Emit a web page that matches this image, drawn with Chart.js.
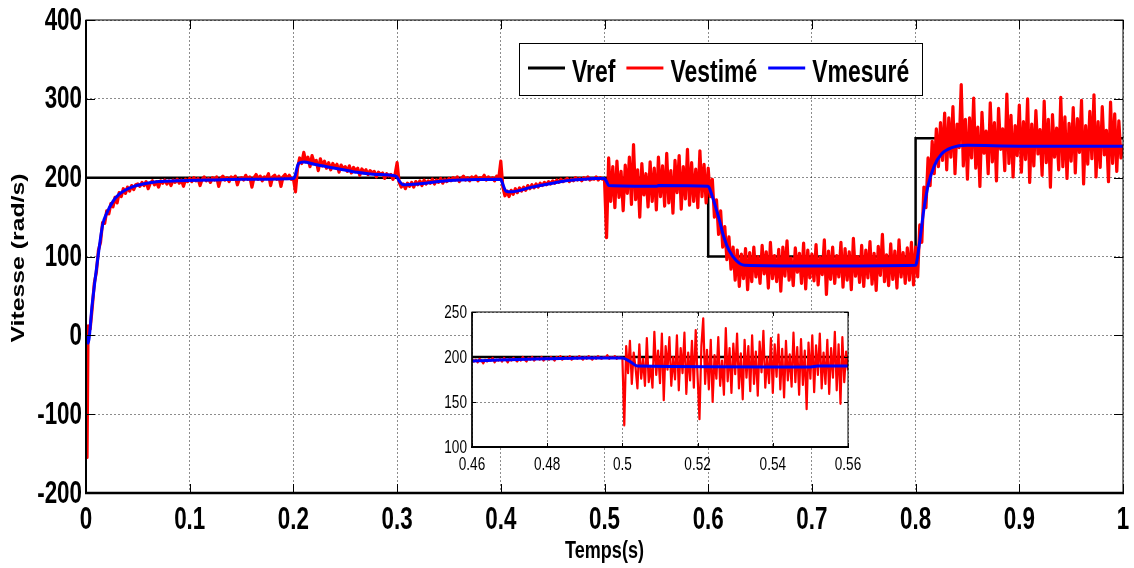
<!DOCTYPE html>
<html>
<head>
<meta charset="utf-8">
<script src="https://cdn.jsdelivr.net/npm/chart.js@4.4.1/dist/chart.umd.min.js"></script>
<style>
    html, body { margin: 0; padding: 0; background: #fff; }
    #wrap { position: relative; width: 1134px; height: 568px; }
    #main { position: absolute; left: 0; top: 0; }
    #inset { position: absolute; left: 428px; top: 300px; }
</style>
</head>
<body>
<div id="wrap">
    <canvas id="main" width="1134" height="568"></canvas>
    <canvas id="inset" width="460" height="180"></canvas>
</div>
<script>
// ============================================================================
// VITESSE : Vref / Vestimé / Vmesuré  (main plot + zoom 0.46 - 0.56 s)
// ============================================================================

const SANS = '"Liberation Sans", Arial, sans-serif';

// tick labels
const xTicksMain = [0, 0.1, 0.2, 0.3, 0.4, 0.5, 0.6, 0.7, 0.8, 0.9, 1];
const yTicksMain = [-200, -100, 0, 100, 200, 300, 400];
const xTicksInset = [0.46, 0.48, 0.5, 0.52, 0.54, 0.56];
const yTicksInset = [100, 150, 200, 250];

// reference speed (rad/s)
const refTimes = [0, 0.6, 0.6, 0.8, 0.8, 1];
const refValues = [200, 200, 100, 100, 250, 250];

// measured speed (rad/s)
const mesTimes = [0, 0.002, 0.006, 0.0116, 0.016, 0.02, 0.026, 0.032, 0.039, 0.046,
    0.055, 0.07, 0.088, 0.12, 0.15, 0.2, 0.201, 0.205, 0.21, 0.22,
    0.24, 0.26, 0.28, 0.299, 0.302, 0.306, 0.32, 0.34, 0.36, 0.4,
    0.401, 0.405, 0.41, 0.43, 0.45, 0.46, 0.47, 0.48, 0.49, 0.5,
    0.502, 0.504, 0.55, 0.552, 0.6, 0.603, 0.61, 0.615, 0.62, 0.627,
    0.635, 0.7, 0.8, 0.803, 0.808, 0.812, 0.818, 0.825, 0.835, 0.85,
    0.9, 1.0];
const mesValues = [0, -10, 40, 100, 140, 155, 170, 179, 185, 189,
    192, 195, 196, 197, 198, 199, 200, 218, 220, 217,
    212, 207, 204, 202, 196, 191, 192, 195, 197, 198,
    195, 183, 182, 188, 193, 195.5, 197, 198, 199, 199,
    195, 190, 189, 190, 189, 180, 150, 125, 108, 95,
    89, 88, 89, 110, 160, 190, 215, 230, 238, 241,
    240, 240];

// estimated speed: start-up spike, then samples every 2 ms from t = 0.002 (one row = 50 ms)
const estStartTimes = [0, 0.001];
const estStartValues = [0, -155];
const estStep = 0.002;
const estValues = [
    12, 8, 35, 66, 80, 108, 118, 143, 142, 158, 154, 167, 163, 175, 168, 181, 176, 186, 180, 188, 183, 190, 185, 191,
    192, 189, 194, 190, 195, 186, 193, 196, 191, 195, 188, 196, 193, 197, 192, 196, 190, 197, 194, 198, 193, 197, 189, 198, 195,
    199, 195, 200, 196, 199, 190, 198, 201, 196, 199, 194, 200, 197, 201, 189, 199, 202, 197, 200, 195, 201, 198, 202, 191, 199,
    200, 197, 203, 198, 201, 188, 200, 204, 198, 202, 196, 201, 199, 205, 190, 201, 203, 198, 202, 189, 201, 204, 199, 203, 198,
    199, 182, 212, 225, 218, 232, 220, 226, 214, 228, 219, 222, 209, 224, 215, 221, 212, 219, 210, 218, 213, 217, 207, 216, 211,
    214, 208, 215, 206, 213, 209, 212, 203, 211, 207, 210, 204, 209, 206, 208, 201, 207, 204, 206, 199, 205, 202, 204, 198, 204,
    219, 194, 188, 192, 186, 193, 189, 194, 188, 195, 191, 196, 190, 197, 192, 196, 193, 198, 192, 197, 194, 199, 193, 198, 195,
    199, 196, 200, 197, 201, 195, 199, 202, 197, 200, 196, 201, 198, 202, 196, 200, 199, 203, 197, 201, 198, 200, 196, 202, 199,
    221, 188, 177, 183, 176, 184, 179, 186, 181, 187, 183, 188, 184, 190, 186, 191, 187, 192, 188, 193, 190, 194, 191, 195, 192,
    196, 193, 197, 194, 198, 195, 197, 199, 195, 198, 196, 200, 197, 199, 196, 200, 198, 201, 197, 199, 198, 201, 197, 200, 198,
    198, 124, 225, 170, 214, 162, 221, 175, 208, 158, 216, 180, 226, 166, 242, 172, 210, 150, 218, 178, 205, 163, 220, 170, 212,
    159, 226, 176, 215, 164, 231, 168, 209, 155, 222, 181, 228, 160, 214, 173, 236, 165, 219, 170, 211, 162, 234, 176, 217, 168,
    212, 176, 198, 150, 172, 128, 158, 112, 138, 96, 125, 84, 112, 70, 108, 62, 103, 72, 110, 58, 105, 68, 112, 74, 100,
    66, 114, 78, 106, 60, 118, 72, 101, 68, 109, 56, 112, 75, 120, 70, 98, 63, 111, 80, 104, 66, 117, 59, 108, 73,
    103, 69, 115, 64, 99, 77, 121, 52, 107, 71, 112, 66, 101, 74, 118, 61, 110, 70, 106, 58, 123, 75, 100, 67, 114,
    62, 108, 73, 119, 65, 104, 57, 113, 76, 128, 68, 102, 63, 116, 71, 107, 60, 121, 74, 105, 66, 111, 70, 118, 64,
    112, 74, 140, 118, 188, 162, 225, 190, 246, 205, 262, 214, 270, 222, 282, 210, 276, 226, 290, 205, 268, 238, 318, 215, 274,
    198, 276, 225, 301, 212, 264, 189, 283, 231, 259, 205, 295, 220, 270, 196, 288, 236, 262, 209, 306, 218, 279, 201, 266, 228,
    292, 207, 271, 223, 300, 194, 268, 215, 285, 230, 261, 203, 297, 219, 274, 188, 280, 226, 263, 210, 302, 214, 277, 199, 269,
    221, 289, 206, 275, 232, 298, 192, 266, 217, 284, 224, 305, 201, 271, 213, 290, 229, 260, 195, 296, 218, 281, 208, 272, 225,
    242
];

// estimated speed in the zoom, sampled every 0.5 ms from t = 0.46
const insetStart = 0.46;
const insetStep = 0.0005;
const insetEstValues = [
    198, 195, 197, 194, 198, 196, 193, 197, 195, 198, 196, 199, 194, 197, 196, 198, 195, 199, 197, 194,
    198, 196, 199, 197, 195, 198, 196, 200, 197, 195, 199, 197, 200, 196, 198, 199, 197, 200, 196, 198,
    199, 197, 200, 198, 196, 200, 198, 201, 197, 199, 200, 198, 201, 197, 199, 200, 198, 201, 199, 197,
    200, 198, 201, 199, 197, 200, 198, 201, 199, 198, 200, 199, 202, 198, 200, 199, 201, 198, 200, 199,
    199, 124, 212, 182, 218, 170, 205, 188, 165, 214,
    176, 198, 168, 221, 172, 190, 166, 228, 180, 207,
    171, 226, 152, 212, 186, 222, 168, 200, 175, 224,
    163, 210, 182, 227, 159, 205, 174, 218, 166, 230,
    178, 131, 212, 243, 170, 208, 164, 219, 150, 202,
    176, 222, 168, 196, 158, 232, 173, 210, 160, 215,
    181, 226, 165, 204, 153, 219, 177, 212, 162, 224,
    170, 206, 157, 217, 183, 229, 166, 200, 171, 221,
    160, 214, 178, 225, 164, 209, 155, 218, 174, 203,
    167, 227, 172, 211, 158, 220, 169, 207, 142, 216,
    176, 224, 161, 213, 180, 226, 165, 205, 170, 219,
    159, 210, 177, 228, 163, 214, 148, 222, 172, 206,
    185
];

const legendItems = [
    { label: 'Vref', color: '#000000' },
    { label: 'Vestimé', color: '#ff0000' },
    { label: 'Vmesuré', color: '#0000ff' }
];

// ---------------------------------------------------------------------------

const toPoints = (ts, vs) => ts.map((t, i) => ({ x: t, y: vs[i] }));
const sampled = (t0, step, vs) => vs.map((v, i) => ({ x: +(t0 + i * step).toFixed(5), y: v }));
const fmt = v => String(Math.round(v * 100) / 100);

const refPts = toPoints(refTimes, refValues);
const mesPts = toPoints(mesTimes, mesValues);
const estPts = toPoints(estStartTimes, estStartValues).concat(sampled(estStep, estStep, estValues));
const insetPts = sampled(insetStart, insetStep, insetEstValues);

function datasets(estData, estWidth) {
    return [
        { data: refPts, borderColor: '#000000', borderWidth: 2.5, order: 3 },
        { data: estData, borderColor: '#ff0000', borderWidth: estWidth, order: 2, borderJoinStyle: 'round' },
        { data: mesPts, borderColor: '#0000ff', borderWidth: 3, order: 1, cubicInterpolationMode: 'monotone' }
    ];
}

// text squeezed like the narrow MATLAB export font
function narrowText(ctx, text, x, y, sx, sy) {
    ctx.save();
    ctx.translate(x, y);
    ctx.scale(sx, sy);
    ctx.fillText(text, 0, 0);
    ctx.restore();
}

// white axes background, box, inward ticks and tick labels (MATLAB look)
function framePlugin(cfg) {
    return {
        id: 'frame',
        beforeDraw(chart) {
            const { ctx, chartArea: a } = chart;
            ctx.save();
            ctx.fillStyle = '#ffffff';
            ctx.fillRect(a.left, a.top, a.right - a.left, a.bottom - a.top);
            ctx.restore();
        },
        afterDraw(chart) {
            const { ctx, chartArea: a, scales } = chart;
            const seg = (x1, y1, x2, y2) => { ctx.beginPath(); ctx.moveTo(x1, y1); ctx.lineTo(x2, y2); ctx.stroke(); };
            ctx.save();
            ctx.strokeStyle = '#000';
            ctx.lineWidth = 1;
            scales.x.ticks.forEach(t => {
                const px = Math.round(scales.x.getPixelForValue(t.value)) + 0.5;
                seg(px, a.bottom, px, a.bottom - cfg.tick);
                seg(px, a.top, px, a.top + cfg.tick);
            });
            scales.y.ticks.forEach(t => {
                const py = Math.round(scales.y.getPixelForValue(t.value)) + 0.5;
                seg(a.left, py, a.left + cfg.tick, py);
                seg(a.right, py, a.right - cfg.tick, py);
            });
            ctx.lineWidth = cfg.thin;
            ctx.strokeRect(a.left, a.top, a.right - a.left, a.bottom - a.top);
            ctx.lineWidth = cfg.left;
            seg(a.left, a.top, a.left, a.bottom);
            ctx.lineWidth = cfg.bottom;
            seg(a.left - 1, a.bottom, a.right + 1, a.bottom);

            // tick labels
            ctx.fillStyle = '#000';
            ctx.font = cfg.font;
            ctx.textBaseline = 'middle';
            ctx.textAlign = 'center';
            scales.x.ticks.forEach(t => {
                narrowText(ctx, fmt(t.value), scales.x.getPixelForValue(t.value), a.bottom + cfg.xLabelGap, cfg.sx, cfg.sy);
            });
            ctx.textAlign = 'right';
            scales.y.ticks.forEach(t => {
                narrowText(ctx, fmt(t.value), a.left - cfg.yLabelGap, scales.y.getPixelForValue(t.value) + 1, cfg.sx, cfg.sy);
            });
            ctx.restore();
        }
    };
}

const titlesPlugin = {
    id: 'titles',
    afterDraw(chart) {
        const { ctx, chartArea: a } = chart;
        ctx.save();
        ctx.fillStyle = '#000';
        ctx.textAlign = 'center';
        ctx.textBaseline = 'middle';
        ctx.font = 'bold 22px ' + SANS;
        narrowText(ctx, 'Temps(s)', (a.left + a.right) / 2, 551, 0.82, 1.08);

        ctx.translate(19, 258);
        ctx.rotate(-Math.PI / 2);
        ctx.font = 'bold 18px ' + SANS;
        const w = ctx.measureText('Vitesse (rad/s)').width;
        ctx.scale(169 / w, 1);
        ctx.fillText('Vitesse (rad/s)', 0, 0);
        ctx.restore();
    }
};

const legendPlugin = {
    id: 'boxLegend',
    afterDraw(chart) {
        const { ctx } = chart;
        const box = { x: 519, y: 43, w: 403, h: 52 };
        const midY = box.y + 25;
        const sx = 0.82;
        ctx.save();
        ctx.fillStyle = '#fff';
        ctx.fillRect(box.x, box.y, box.w, box.h);
        ctx.strokeStyle = '#000';
        ctx.lineWidth = 1;
        ctx.strokeRect(box.x + 0.5, box.y + 0.5, box.w, box.h);
        ctx.font = 'bold 28px ' + SANS;
        ctx.textBaseline = 'alphabetic';
        ctx.textAlign = 'left';
        ctx.fillStyle = '#000';
        let x = box.x + 9;
        legendItems.forEach(item => {
            ctx.strokeStyle = item.color;
            ctx.lineWidth = 3;
            ctx.beginPath();
            ctx.moveTo(x, midY);
            ctx.lineTo(x + 37, midY);
            ctx.stroke();
            x += 44;
            narrowText(ctx, item.label, x, midY + 14, sx, 1.15);
            x += ctx.measureText(item.label).width * sx + 11;
        });
        ctx.restore();
    }
};

function axis(min, max, ticksArr, fit) {
    return {
        type: 'linear',
        min: min,
        max: max,
        afterBuildTicks: s => { s.ticks = ticksArr.map(v => ({ value: v })); },
        afterFit: fit,
        ticks: { display: false, autoSkip: false },
        grid: { color: 'rgba(0, 0, 0, 0.45)', lineWidth: 1, drawTicks: false },
        border: { display: false, dash: [2, 2] }
    };
}

const baseOptions = {
    responsive: false,
    animation: false,
    elements: { point: { radius: 0 }, line: { tension: 0 } },
    plugins: { legend: { display: false }, tooltip: { enabled: false } }
};

new Chart(document.getElementById('main').getContext('2d'), {
    type: 'line',
    data: { datasets: datasets(estPts, 3.2) },
    options: {
        ...baseOptions,
        layout: { padding: { top: 20, right: 11, left: 0, bottom: 0 } },
        scales: {
            x: axis(0, 1, xTicksMain, s => { s.height = 75; s.paddingLeft = 0; s.paddingRight = 0; }),
            y: axis(-200, 400, yTicksMain, s => { s.width = 86; s.paddingTop = 0; s.paddingBottom = 0; })
        }
    },
    plugins: [
        framePlugin({ tick: 9, thin: 1, left: 2, bottom: 2.5, font: 'bold 28px ' + SANS, sx: 0.8, sy: 1.12, xLabelGap: 27, yLabelGap: 4 }),
        titlesPlugin,
        legendPlugin
    ]
});

new Chart(document.getElementById('inset').getContext('2d'), {
    type: 'line',
    data: { datasets: datasets(insetPts, 2.2) },
    options: {
        ...baseOptions,
        layout: { padding: { top: 12, right: 40, left: 0, bottom: 0 } },
        scales: {
            x: axis(0.46, 0.56, xTicksInset, s => { s.height = 33; s.paddingLeft = 0; s.paddingRight = 0; }),
            y: axis(100, 250, yTicksInset, s => { s.width = 44; s.paddingTop = 0; s.paddingBottom = 0; })
        }
    },
    plugins: [
        framePlugin({ tick: 4, thin: 1, left: 1.5, bottom: 2, font: '17px ' + SANS, sx: 0.8, sy: 1.05, xLabelGap: 18, yLabelGap: 5 })
    ]
});
</script>
</body>
</html>
